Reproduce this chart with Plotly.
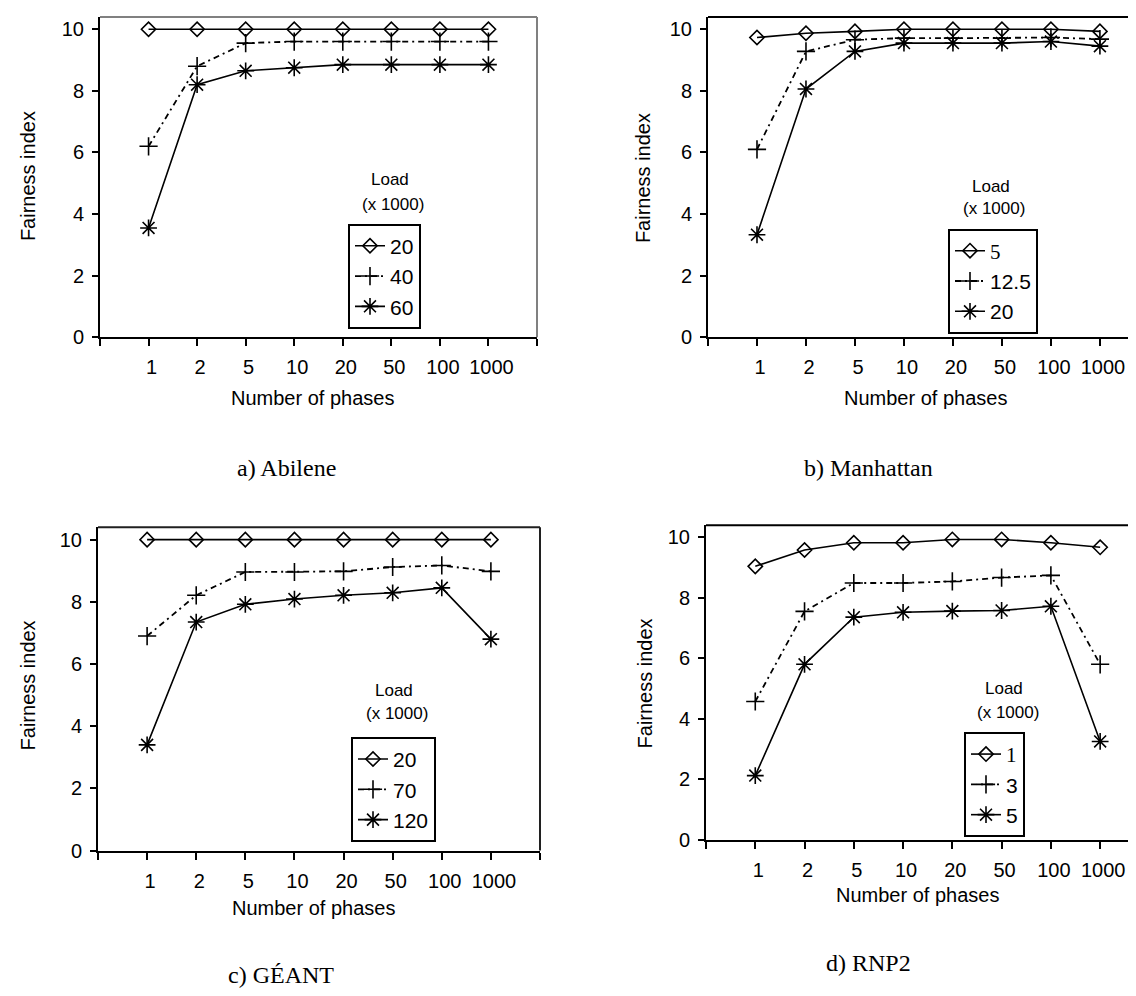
import plotly.graph_objects as go

W, H = 1136, 996

phases = ["1", "2", "5", "10", "20", "50", "100", "1000"]

# a) Abilene
abilene_loads = ["20", "40", "60"]
abilene_20 = [10, 10, 10, 10, 10, 10, 10, 10]
abilene_40 = [6.2, 8.8, 9.55, 9.6, 9.6, 9.6, 9.6, 9.6]
abilene_60 = [3.55, 8.2, 8.65, 8.75, 8.85, 8.85, 8.85, 8.85]

# b) Manhattan
manhattan_loads = ["5", "12.5", "20"]
manhattan_5 = [9.73, 9.87, 9.93, 10, 10, 10, 10, 9.93]
manhattan_12_5 = [6.1, 9.28, 9.66, 9.71, 9.71, 9.71, 9.73, 9.68]
manhattan_20 = [3.33, 8.06, 9.28, 9.55, 9.55, 9.55, 9.6, 9.45]

# c) GEANT
geant_loads = ["20", "70", "120"]
geant_20 = [10, 10, 10, 10, 10, 10, 10, 10]
geant_70 = [6.9, 8.21, 8.96, 8.96, 8.98, 9.12, 9.17, 8.98]
geant_120 = [3.4, 7.35, 7.92, 8.09, 8.21, 8.29, 8.45, 6.8]

# d) RNP2
rnp2_loads = ["1", "3", "5"]
rnp2_1 = [9.04, 9.58, 9.82, 9.82, 9.93, 9.93, 9.82, 9.67]
rnp2_3 = [4.57, 7.55, 8.49, 8.49, 8.54, 8.67, 8.74, 5.8]
rnp2_5 = [2.12, 5.8, 7.36, 7.52, 7.56, 7.58, 7.72, 3.25]

captions = ["a) Abilene", "b) Manhattan", "c) GÉANT", "d) RNP2"]

SANS = "Liberation Sans, Arial, sans-serif"
SERIF = "Liberation Serif, Times New Roman, serif"


def fx(x):
    return x / W


def fy(y):
    return 1 - y / H


xpos = list(range(len(phases)))

fig = go.Figure()

panels = [
    dict(ax="", loads=abilene_loads, vals=[abilene_20, abilene_40, abilene_60],
         xdom=(92, 529), ydom=(333, 9), xr=[-1, 8], border="#808080", right=True,
         legend=(340, 218), load=(382, 173), mult=(385, 199),
         ytitle=(20, 170), xtitle=(304, 394), cap=(278, 465), serif=None),
    dict(ax="2", loads=manhattan_loads, vals=[manhattan_5, manhattan_12_5, manhattan_20],
         xdom=(700, 1136), ydom=(333, 9), xr=[-1, 7.9], border="#000000", right=False,
         legend=(940, 223), load=(983, 180), mult=(986, 203),
         ytitle=(635, 172), xtitle=(917, 394), cap=(860, 465), serif=0),
    dict(ax="3", loads=geant_loads, vals=[geant_20, geant_70, geant_120],
         xdom=(90, 532), ydom=(852, 525), xr=[-1, 8], border="#202020", right=True,
         legend=(343, 737), load=(386, 690), mult=(389, 713),
         ytitle=(20, 685), xtitle=(305, 910), cap=(273, 978), serif=None),
    dict(ax="4", loads=rnp2_loads, vals=[rnp2_1, rnp2_3, rnp2_5],
         xdom=(698, 1136), ydom=(841, 523), xr=[-1, 7.89], border="#000000", right=False,
         legend=(956, 732), load=(996, 688), mult=(1000, 712),
         ytitle=(637, 683), xtitle=(909, 897), cap=(860, 966), serif=0),
]

styles = [
    dict(symbol="diamond-open", size=11, dash="solid"),
    dict(symbol="cross-thin-open", size=13, dash="6px,4px,2px,4px"),
    dict(symbol="asterisk-open", size=14, dash="solid"),
]

annotations = []
shapes = []
layout = dict(width=W, height=H, margin=dict(l=0, r=0, t=0, b=0),
              paper_bgcolor="white", plot_bgcolor="white", showlegend=True)


def note(text, xy, size, family=SANS, angle=0):
    return dict(text=text, x=fx(xy[0]), y=fy(xy[1]), xref="paper", yref="paper",
                xanchor="center", yanchor="middle", showarrow=False, textangle=angle,
                font=dict(family=family, size=size, color="black"))


for i, p in enumerate(panels):
    ax = p["ax"]
    xa = "x" + ax
    ya = "y" + ax
    leg = "legend" + ax
    for j, (name, vals) in enumerate(zip(p["loads"], p["vals"])):
        st = styles[j]
        label = name
        if p["serif"] == j:
            label = '<span style="font-family:Liberation Serif">' + name + "</span>"
        fig.add_trace(go.Scatter(
            x=xpos, y=vals, name=label, mode="lines+markers",
            xaxis=xa, yaxis=ya, legend=leg,
            line=dict(color="black", width=1.8 if j == 1 else 1.6, dash=st["dash"]),
            marker=dict(symbol=st["symbol"], size=st["size"], color="black",
                        line=dict(color="black", width=1.6)),
        ))
    xd = [fx(p["xdom"][0]), fx(p["xdom"][1])]
    yd = [fy(p["ydom"][0]), fy(p["ydom"][1])]
    layout["xaxis" + ax] = dict(
        domain=xd, range=p["xr"], anchor=ya,
        tickmode="array", tickvals=list(range(-1, 9)),
        ticktext=[""] + phases + [""],
        ticks="outside", ticklen=7, tickwidth=2, tickcolor="black",
        showline=True, linecolor="black", linewidth=2,
        showgrid=False, zeroline=False, ticklabelshift=3, ticklabelstandoff=4,
        tickfont=dict(family=SANS, size=20, color="black"),
    )
    layout["yaxis" + ax] = dict(
        domain=yd, range=[0, 10.4], anchor=xa,
        tickmode="array", tickvals=[0, 2, 4, 6, 8, 10],
        ticks="outside", ticklen=6, tickwidth=2, tickcolor="black",
        showline=True, linecolor="black", linewidth=2,
        showgrid=False, zeroline=False, ticklabelstandoff=4,
        tickfont=dict(family=SANS, size=20, color="black"),
    )
    layout[leg] = dict(
        x=fx(p["legend"][0]), y=fy(p["legend"][1]), xanchor="left", yanchor="top",
        bgcolor="white", bordercolor="black", borderwidth=2,
        font=dict(family=SANS, size=21, color="black"),
        tracegroupgap=0, itemwidth=30,
    )
    # plot frame
    shapes.append(dict(type="line", xref=xa + " domain", yref=ya + " domain",
                       x0=0, x1=1, y0=1, y1=1,
                       line=dict(color=p["border"], width=2)))
    if p["right"]:
        shapes.append(dict(type="line", xref=xa + " domain", yref=ya + " domain",
                           x0=1, x1=1, y0=0, y1=1,
                           line=dict(color=p["border"], width=2)))
    annotations.append(note("Load", p["load"], 17))
    annotations.append(note("(x 1000)", p["mult"], 17))
    annotations.append(note("Fairness index", p["ytitle"], 20, angle=-90))
    annotations.append(note("Number of phases", p["xtitle"], 20))
    annotations.append(note(captions[i], p["cap"], 24, family=SERIF))

layout["annotations"] = annotations
layout["shapes"] = shapes
fig.update_layout(**layout)

fig.write_html("out.html")
